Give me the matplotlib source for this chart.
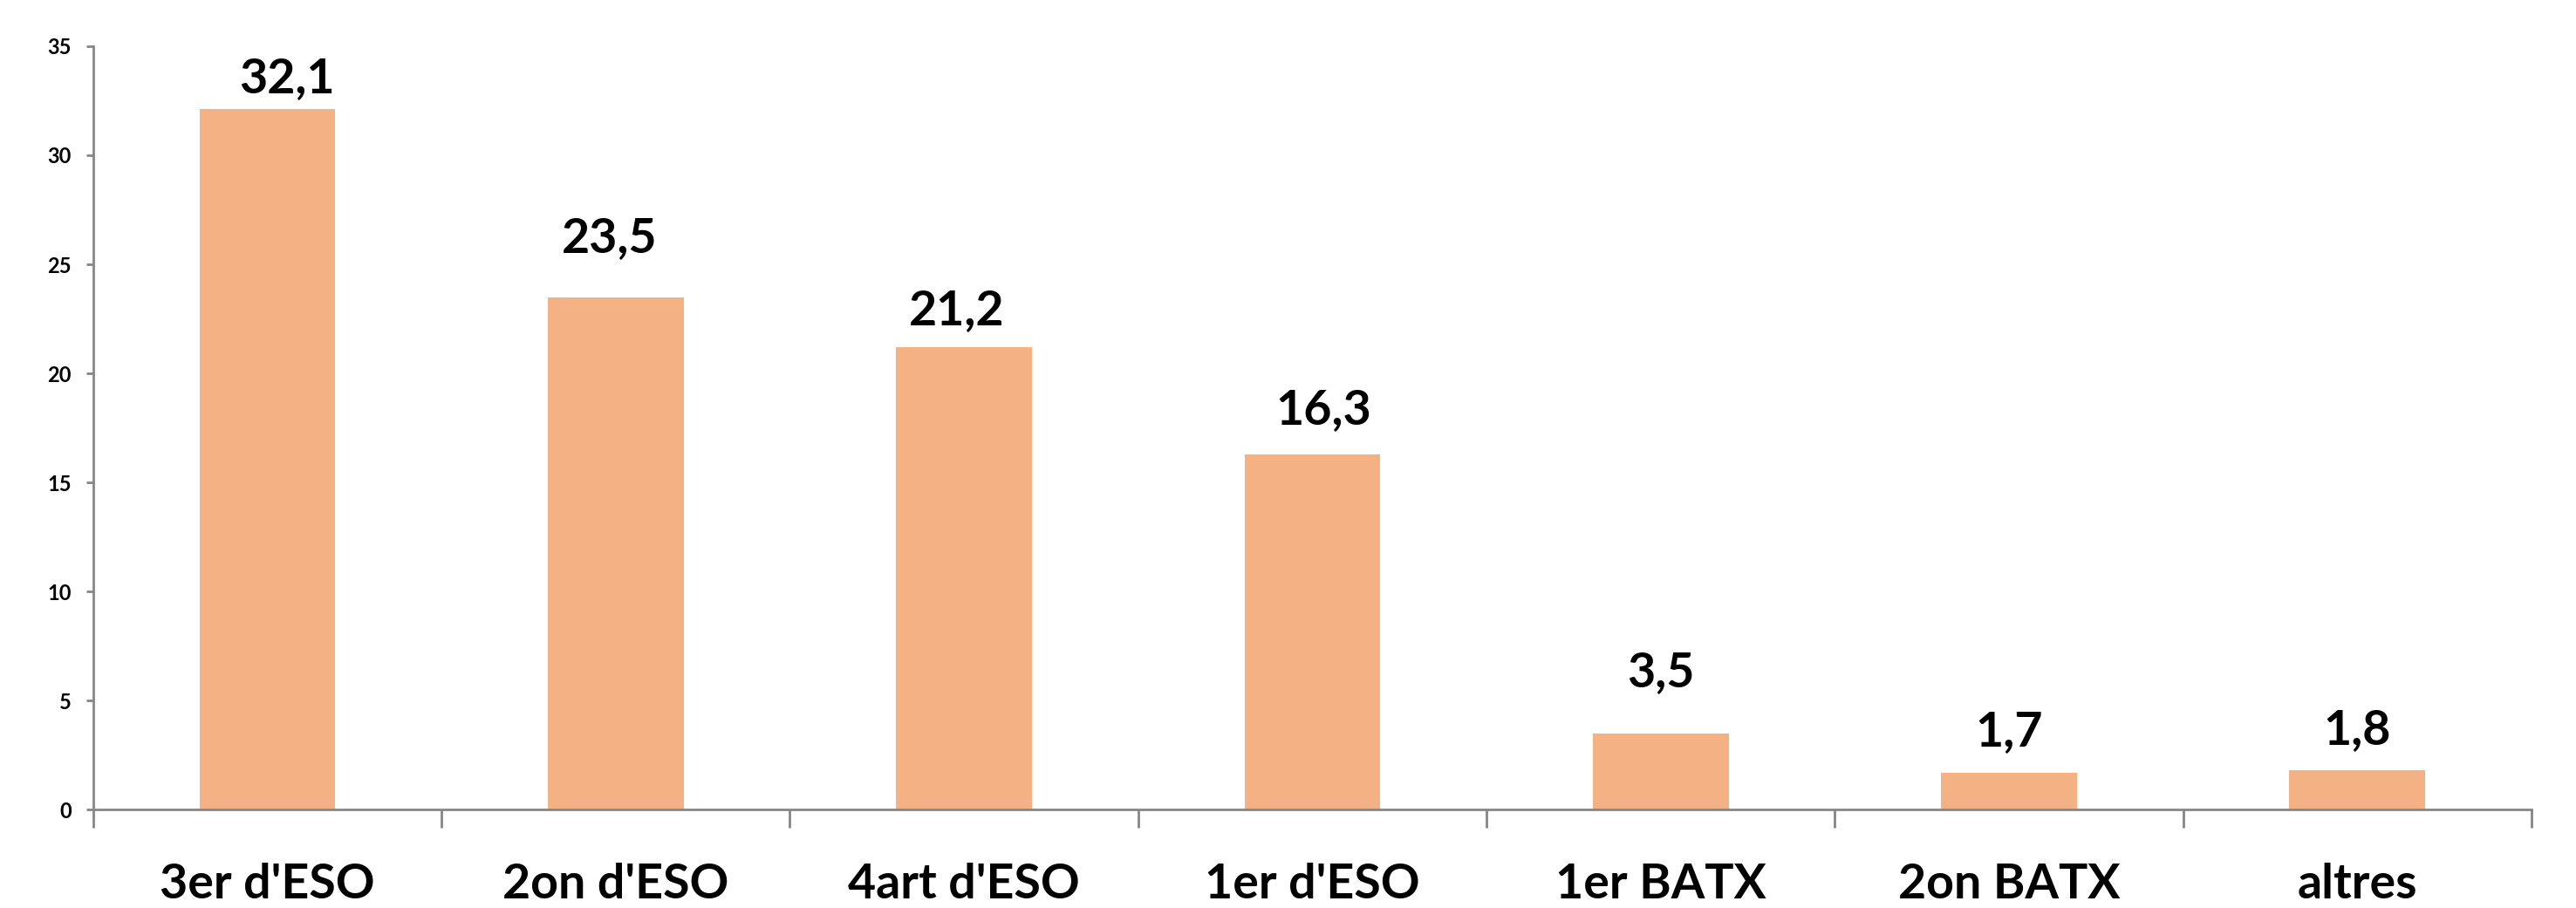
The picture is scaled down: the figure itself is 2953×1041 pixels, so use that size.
import matplotlib.pyplot as plt
from matplotlib.ticker import FixedLocator

#------------------------------------------------------------------------------
# Data
#------------------------------------------------------------------------------
courses = ["3er d'ESO", "2on d'ESO", "4art d'ESO", "1er d'ESO", "1er BATX", "2on BATX", "altres"]
values = [32.1, 23.5, 21.2, 16.3, 3.5, 1.7, 1.8]
# label offsets (points) from bar top, as placed in the source chart
label_dx = [16.5, -5, -6, 9, 0, 0, 0]
label_dy = [13.7, 37.4, 18.7, 24.5, 38.9, 22.3, 21.6]
yticks = [0, 5, 10, 15, 20, 25, 30, 35]

#------------------------------------------------------------------------------
# Plot
#------------------------------------------------------------------------------
plt.rcParams['font.family'] = ['Lato', 'DejaVu Sans']
grey = '#868686'

fig = plt.figure(figsize=(29.53, 10.41), dpi=100)
ax = fig.add_axes([0.0362, 0.1085, 0.9465, 0.8406])

x = range(len(courses))
ax.bar(x, values, width=0.39, color='#F4B183')

for i, v in enumerate(values):
    ax.annotate(f"{v:.1f}".replace('.', ','), (i, v), xytext=(label_dx[i], label_dy[i]),
                textcoords='offset points', ha='center', va='baseline',
                fontsize=40, fontweight='bold')

ax.set_xlim(-0.5, len(courses) - 0.5)
ax.set_ylim(0, 35)
ax.set_yticks(yticks)
ax.set_xticks(list(x))
ax.set_xticklabels(courses, fontsize=40, fontweight='bold')
ax.xaxis.set_minor_locator(FixedLocator([i - 0.5 for i in range(len(courses) + 1)]))

ax.tick_params(axis='x', which='major', length=0, pad=44)
ax.tick_params(axis='x', which='minor', length=15, width=2, color=grey)
ax.tick_params(axis='y', length=6, width=2, color=grey, pad=12, labelsize=17)
for t in ax.get_yticklabels():
    t.set_fontweight('bold')

for side in ['top', 'right']:
    ax.spines[side].set_visible(False)
for side in ['left', 'bottom']:
    ax.spines[side].set_color(grey)
    ax.spines[side].set_linewidth(2)

fig.savefig('out.png')
